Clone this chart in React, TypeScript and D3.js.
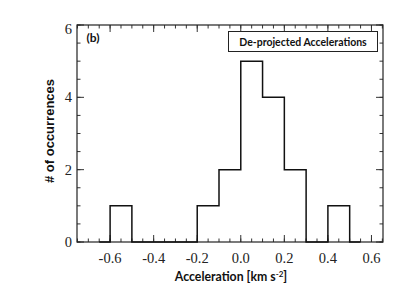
import React from "react";
import * as d3 from "d3";

const binEdges = [-0.6, -0.5, -0.4, -0.3, -0.2, -0.1, 0.0, 0.1, 0.2, 0.3, 0.4];
const counts = [1, 0, 0, 0, 1, 2, 5, 4, 2, 0, 1];
const binWidth = 0.1;
const xTicks = [-0.6, -0.4, -0.2, 0.0, 0.2, 0.4, 0.6];
const yTicks = [0, 2, 4, 6];
const xDomain = [-0.752, 0.653];
const yDomain = [0, 6];

export default function App() {
  const W = 407, H = 291;
  const left = 77, right = 383, top = 25, bottom = 242;
  const x = d3.scaleLinear().domain(xDomain).range([left, right]);
  const y = d3.scaleLinear().domain(yDomain).range([bottom, top]);

  const stepPts: [number, number][] = [[binEdges[0] - binWidth / 2, 0], [binEdges[0], 0]];
  binEdges.forEach((e, i) => {
    stepPts.push([e, counts[i]]);
    stepPts.push([e + binWidth, counts[i]]);
  });
  const lastEdge = binEdges[binEdges.length - 1] + binWidth;
  stepPts.push([lastEdge, 0]);
  stepPts.push([lastEdge + binWidth / 2, 0]);
  const line = d3.line<[number, number]>().x((d) => x(d[0])).y((d) => y(d[1]));

  const xMinor = d3.range(-0.75, 0.66, 0.05).map((v) => Math.round(v * 100) / 100).filter((v) => v >= xDomain[0] && v <= xDomain[1]);
  const yMinor = d3.range(0, 6.01, 0.5);

  const serif = "'Liberation Serif', 'DejaVu Serif', serif";
  const sans = "Lato, 'Open Sans', sans-serif";
  const arial = "'Liberation Sans', Arial, sans-serif";

  return (
    <svg width={W} height={H} style={{ position: "absolute", left: 0, top: 0, background: "#fff" }}>
      <rect x={0} y={0} width={W} height={H} fill="#fff" />
      {xMinor.map((v, i) => (
        <g key={"xm" + i} stroke="#333" strokeWidth={1}>
          <line x1={x(v)} x2={x(v)} y1={bottom} y2={bottom - 3.5} />
          <line x1={x(v)} x2={x(v)} y1={top} y2={top + 3.5} />
        </g>
      ))}
      {yMinor.map((v, i) => (
        <g key={"ym" + i} stroke="#333" strokeWidth={1}>
          <line x1={left} x2={left + 3.5} y1={y(v)} y2={y(v)} />
          <line x1={right} x2={right - 3.5} y1={y(v)} y2={y(v)} />
        </g>
      ))}
      {xTicks.map((v, i) => (
        <g key={"xt" + i} stroke="#333" strokeWidth={1}>
          <line x1={x(v)} x2={x(v)} y1={bottom} y2={bottom - 7} />
          <line x1={x(v)} x2={x(v)} y1={top} y2={top + 7} />
        </g>
      ))}
      {yTicks.map((v, i) => (
        <g key={"yt" + i} stroke="#333" strokeWidth={1}>
          <line x1={left} x2={left + 7} y1={y(v)} y2={y(v)} />
          <line x1={right} x2={right - 7} y1={y(v)} y2={y(v)} />
        </g>
      ))}
      <rect x={left} y={top} width={right - left} height={bottom - top} fill="none" stroke="#222" strokeWidth={1.2} />
      <path d={line(stepPts) || ""} fill="none" stroke="#111" strokeWidth={1.5} />
      {xTicks.map((v, i) => (
        <text key={"xl" + i} x={x(v)} y={263} textAnchor="middle" fontFamily={serif} fontSize={14.5} fill="#222">
          {v.toFixed(1)}
        </text>
      ))}
      {yTicks.map((v, i) => (
        <text key={"yl" + i} x={left - 5} y={Math.max(y(v) + 5, top + 8.5)} textAnchor="end" fontFamily={serif} fontSize={14.5} fill="#222">
          {v}
        </text>
      ))}
      <text x={231} y={281} textAnchor="middle" fontFamily={sans} fontWeight="bold" fontSize={12.3} fill="#111">
        Acceleration [km s<tspan dy={-4.5} fontSize={8}>-2</tspan><tspan dy={4.5}>]</tspan>
      </text>
      <text transform={`translate(54,131) rotate(-90)`} textAnchor="middle" fontFamily={arial} fontWeight="bold" fontSize={13} fill="#111">
        # of occurrences
      </text>
      <text x={86.5} y={42} fontFamily={sans} fontWeight="bold" fontSize={12} fill="#111">(b)</text>
      <rect x={228.5} y={31.5} width={149} height={20} fill="#fff" stroke="#222" strokeWidth={1} />
      <text x={303} y={45.5} textAnchor="middle" fontFamily={sans} fontWeight="bold" fontSize={10.5} fill="#111">
        De-projected Accelerations
      </text>
    </svg>
  );
}
